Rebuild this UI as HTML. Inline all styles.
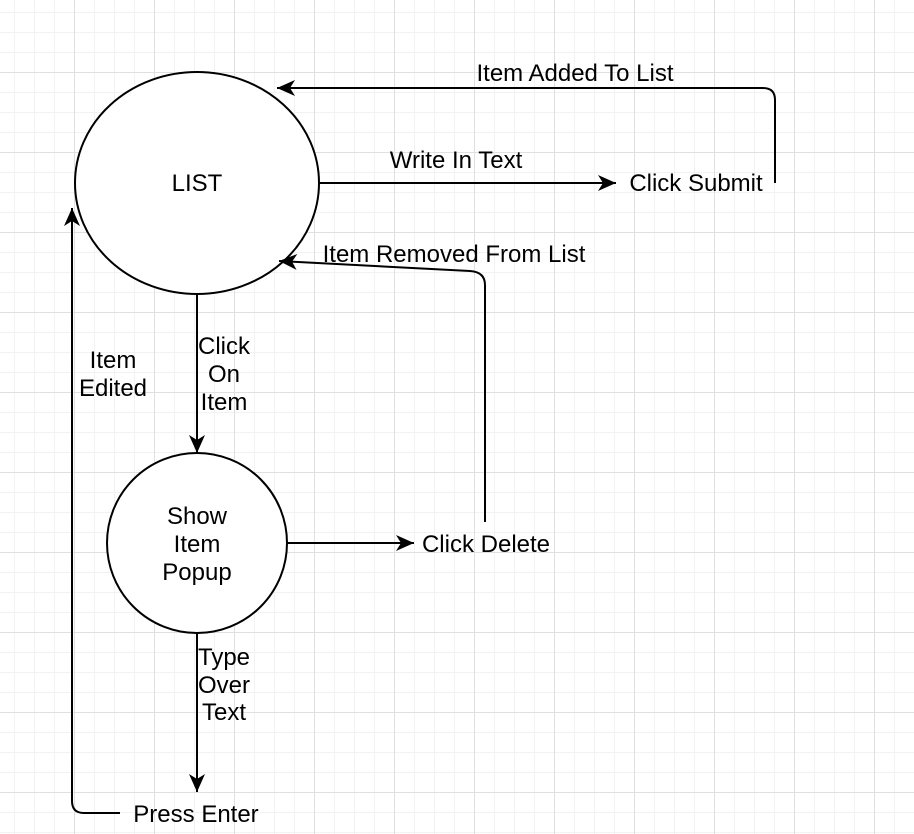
<!DOCTYPE html>
<html><head><style>
html,body{margin:0;padding:0;background:#fff;}
svg{display:block;}
text{font-family:"Liberation Sans",Arial,sans-serif;font-size:24px;fill:#000;}
</style></head><body>
<svg width="914" height="834" viewBox="0 0 914 834" xmlns="http://www.w3.org/2000/svg">
<defs>
<pattern id="minor" x="14" y="12" width="20" height="20" patternUnits="userSpaceOnUse">
<path d="M0 0.5H20M0.5 0V20" stroke="#f2f2f2" stroke-width="1" fill="none"/>
</pattern>
<pattern id="major" x="74" y="72" width="80" height="80" patternUnits="userSpaceOnUse">
<path d="M0 0.5H80M0.5 0V80" stroke="#e0e0e0" stroke-width="1" fill="none"/>
</pattern>
<marker id="ah" markerWidth="20" markerHeight="18" refX="18" refY="9" orient="auto" markerUnits="userSpaceOnUse">
<path d="M0 1L18 9L0 17L5 9Z" fill="#000"/>
</marker>
</defs>
<rect width="914" height="834" fill="url(#minor)"/>
<rect width="914" height="834" fill="url(#major)"/>
<g stroke="#000" stroke-width="2" fill="none">
<ellipse cx="197" cy="183" rx="122" ry="111" fill="#fff"/>
<circle cx="197" cy="543" r="90" fill="#fff"/>
<path d="M320 183H616" marker-end="url(#ah)"/>
<path d="M775 183V100Q775 88 763 88H277" marker-end="url(#ah)"/>
<path d="M287 543H414" marker-end="url(#ah)"/>
<path d="M485 522V285Q485 272 470 271L279 261" marker-end="url(#ah)"/>
<path d="M197 294V453" marker-end="url(#ah)"/>
<path d="M197 633V792" marker-end="url(#ah)"/>
<path d="M120 813H84Q72 813 72 801V208" marker-end="url(#ah)"/>
</g>
<text x="197" y="191" text-anchor="middle">LIST</text>
<text x="197" y="524" text-anchor="middle">Show</text>
<text x="197" y="552" text-anchor="middle">Item</text>
<text x="197" y="580" text-anchor="middle">Popup</text>
<text x="456" y="168" text-anchor="middle">Write In Text</text>
<text x="696" y="191" text-anchor="middle">Click Submit</text>
<text x="575" y="81" text-anchor="middle">Item Added To List</text>
<text x="486" y="552" text-anchor="middle">Click Delete</text>
<text x="454" y="262" text-anchor="middle">Item Removed From List</text>
<text x="224" y="354" text-anchor="middle">Click</text>
<text x="224" y="382" text-anchor="middle">On</text>
<text x="224" y="410" text-anchor="middle">Item</text>
<text x="224" y="665" text-anchor="middle">Type</text>
<text x="224" y="693" text-anchor="middle">Over</text>
<text x="224" y="720" text-anchor="middle">Text</text>
<text x="113" y="368" text-anchor="middle">Item</text>
<text x="113" y="396" text-anchor="middle">Edited</text>
<text x="196" y="822" text-anchor="middle">Press Enter</text>
</svg>
</body></html>
